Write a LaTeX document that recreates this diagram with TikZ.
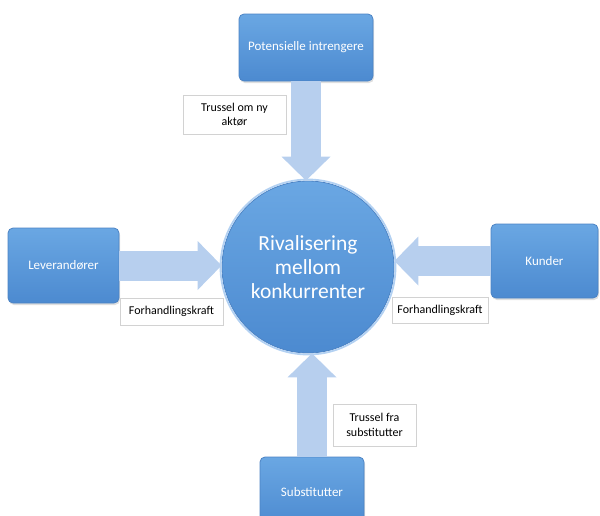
\documentclass[tikz,border=0pt]{standalone}
\usepackage{fontspec}
\setmainfont{Carlito}
\usetikzlibrary{arrows.meta,shadows}

\definecolor{boxtop}{HTML}{6AA7E3}
\definecolor{boxbot}{HTML}{4C8AD0}
\definecolor{boxline}{HTML}{4C83C4}
\definecolor{arrowblue}{HTML}{B7CFEE}
\definecolor{glow}{HTML}{B3D1F2}
\definecolor{labelline}{HTML}{D2D2D2}

\tikzset{
  forcebox/.style={rectangle, rounded corners=5pt, draw=boxline, line width=0.8pt,
    top color=boxtop, bottom color=boxbot, text=white, align=center,
    font=\fontsize{13}{15}\selectfont,
    drop shadow={opacity=0.25, shadow xshift=1pt, shadow yshift=-2pt}},
  centrecircle/.style={circle, draw=boxline, line width=0.8pt, minimum size=172pt,
    top color=boxtop, bottom color=boxbot, text=white, align=center, inner sep=0pt,
    font=\fontsize{21.5}{24}\selectfont},
  forcelabel/.style={rectangle, draw=labelline, line width=0.6pt, fill=white,
    align=center, inner sep=0pt, font=\fontsize{12}{14.5}\selectfont},
  pressure/.style={draw=arrowblue, line width=30pt,
    -{Triangle[width=49pt,length=24pt,line width=0pt]}}
}

\begin{document}
\begin{tikzpicture}[x=1pt,y=-1pt]
\useasboundingbox (0,0) rectangle (600,515);
\clip (0,0) rectangle (600,515);

% central rivalry circle with a soft outer ring
\node[centrecircle] (circ) at (308,267) {Rivalisering\\mellom\\konkurrenter};
\draw[glow, line width=1.8pt] (circ.center) circle[radius=87.5];

% the four forces
\node[forcebox, minimum width=134pt, minimum height=67pt] (top) at (306,47.5) {Potensielle intrengere};
\node[forcebox, minimum width=111pt, minimum height=75pt] (lev) at (63.5,265.5) {Leverandører};
\node[forcebox, minimum width=107pt, minimum height=74pt] (kun) at (544.5,261) {Kunder};
\node[forcebox, minimum width=104pt, minimum height=70pt] (sub) at (312,492) {Substitutter};

% block arrows pointing at the circle
\draw[pressure] (top.south) -- (top.south |- circ.north);
\draw[pressure] (lev.east) -- (lev.east -| circ.west);
\draw[pressure] (kun.west) -- (kun.west -| circ.east);
\draw[pressure] (sub.north) -- (sub.north |- circ.south);

% labels beside the arrows
\node[forcelabel, minimum width=103pt, minimum height=39pt] (lbltop) at (234.5,114.5) {Trussel om ny\\aktør};
\node[forcelabel, minimum width=103pt, minimum height=27pt] (lbllev) at (171.5,311.5) {Forhandlingskraft};
\node[forcelabel, minimum width=96pt, minimum height=26pt] (lblkun) at (440,310) {Forhandlingskraft};
\node[forcelabel, minimum width=83pt, minimum height=42pt] (lblsub) at (374.5,425) {Trussel fra\\substitutter};
\end{tikzpicture}
\end{document}
